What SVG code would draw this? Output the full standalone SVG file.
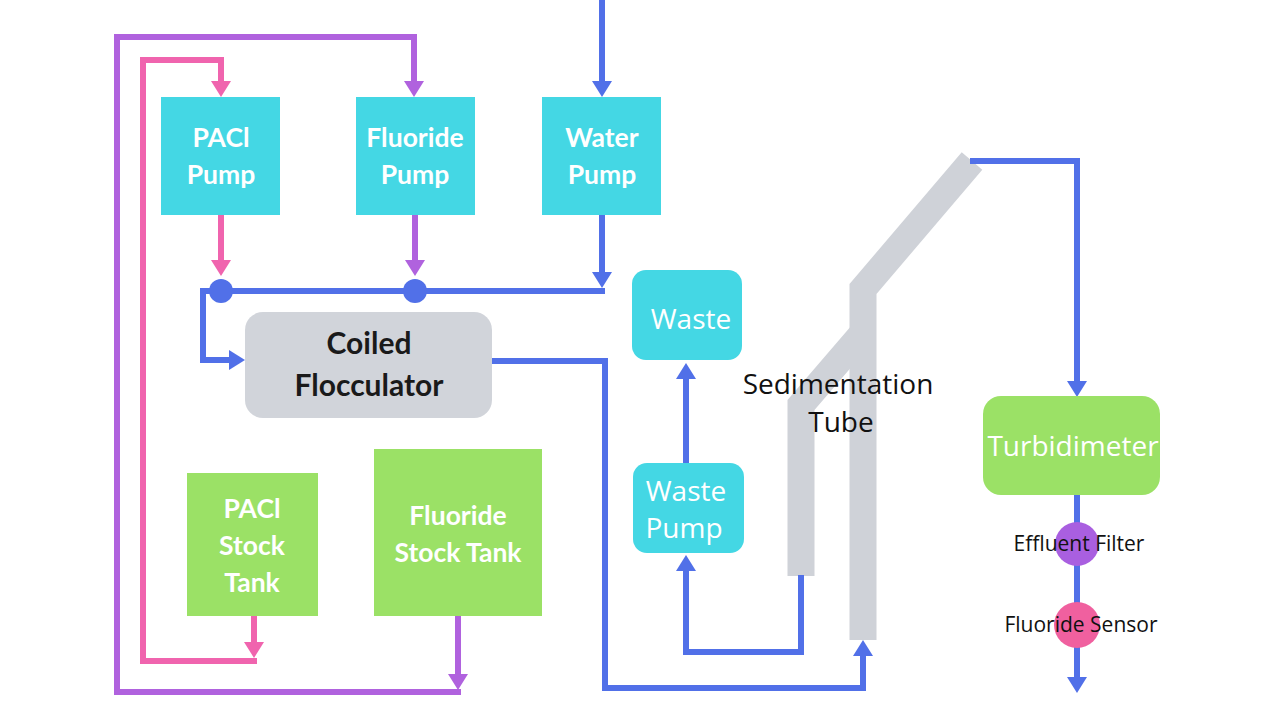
<svg xmlns="http://www.w3.org/2000/svg" width="1280" height="720" viewBox="0 0 1280 720">
<style>
.pump{fill:#44d7e4}
.tank{fill:#9be166}
.lbl{font-family:Lato,"Liberation Sans",sans-serif;font-weight:bold;font-size:26.5px;fill:#ffffff;text-anchor:middle}
.lbl2{font-family:"Open Sans","Liberation Sans",sans-serif;font-size:28px;fill:#ffffff;text-anchor:middle}
.blk{font-family:"Open Sans","Liberation Sans",sans-serif;fill:#111111;text-anchor:middle}
.ln{fill:none;stroke-width:6;stroke-linejoin:miter}
.b{stroke:#5170e8}
.p{stroke:#f064ae}
.v{stroke:#b062de}
.tube{fill:none;stroke:#cfd2d8;stroke-width:27;stroke-linejoin:miter}
</style>
<defs>
<marker id="ab" markerUnits="userSpaceOnUse" markerWidth="16" markerHeight="20" viewBox="0 0 16 20" refX="0" refY="10" orient="auto"><path d="M0,0 L16,10 L0,20 z" fill="#5170e8"/></marker>
<marker id="ap" markerUnits="userSpaceOnUse" markerWidth="16" markerHeight="20" viewBox="0 0 16 20" refX="0" refY="10" orient="auto"><path d="M0,0 L16,10 L0,20 z" fill="#f064ae"/></marker>
<marker id="av" markerUnits="userSpaceOnUse" markerWidth="16" markerHeight="20" viewBox="0 0 16 20" refX="0" refY="10" orient="auto"><path d="M0,0 L16,10 L0,20 z" fill="#b062de"/></marker>
</defs>
<rect width="1280" height="720" fill="#ffffff"/>

<g id="sedimentation-tube">
<path class="tube" d="M801,576 V405 L862,334"/>
<path class="tube" d="M863,640 V289 L972,161"/>
<text class="blk" x="838" y="394" font-size="28">Sedimentation</text>
<text class="blk" x="841" y="432" font-size="28">Tube</text>
</g>

<g id="connectors">
<path class="ln p" d="M221,215 V260" marker-end="url(#ap)"/>
<path class="ln p" d="M254,616 V642" marker-end="url(#ap)"/>
<path class="ln p" d="M257,661 H143 V60 H221 V81" marker-end="url(#ap)"/>
<path class="ln v" d="M415,215 V260" marker-end="url(#av)"/>
<path class="ln v" d="M458,616 V674" marker-end="url(#av)"/>
<path class="ln v" d="M461,692 H117 V37 H414 V81" marker-end="url(#av)"/>
<path class="ln b" d="M602,0 V81" marker-end="url(#ab)"/>
<path class="ln b" d="M602,215 V272" marker-end="url(#ab)"/>
<path class="ln b" d="M605,291 H203 V360 H229" marker-end="url(#ab)"/>
<path class="ln b" d="M492,361 H605 V688 H863 V656" marker-end="url(#ab)"/>
<path class="ln b" d="M686,463 V379" marker-end="url(#ab)"/>
<path class="ln b" d="M801,575 V652 H686 V571" marker-end="url(#ab)"/>
<path class="ln b" d="M970,161 H1077 V381" marker-end="url(#ab)"/>
<path class="ln b" d="M1077,495 V677" marker-end="url(#ab)"/>
<circle cx="221" cy="291" r="12" fill="#5170e8"/>
<circle cx="415" cy="291" r="12" fill="#5170e8"/>
</g>

<g id="pacl-pump">
<rect class="pump" x="161" y="97" width="119" height="118"/>
<text class="lbl" x="221" y="147">PACl</text>
<text class="lbl" x="221" y="184">Pump</text>
</g>
<g id="fluoride-pump">
<rect class="pump" x="356" y="97" width="119" height="118"/>
<text class="lbl" x="415" y="147">Fluoride</text>
<text class="lbl" x="415" y="184">Pump</text>
</g>
<g id="water-pump">
<rect class="pump" x="542" y="97" width="119" height="118"/>
<text class="lbl" x="602" y="147">Water</text>
<text class="lbl" x="602" y="184">Pump</text>
</g>
<g id="coiled-flocculator">
<rect x="245" y="312" width="247" height="106" rx="18" fill="#d1d4da"/>
<text x="369" y="354" font-family="Lato,'Liberation Sans',sans-serif" font-weight="bold" font-size="30" fill="#1a1a1a" text-anchor="middle">Coiled</text>
<text x="369" y="396" font-family="Lato,'Liberation Sans',sans-serif" font-weight="bold" font-size="30" fill="#1a1a1a" text-anchor="middle">Flocculator</text>
</g>
<g id="waste">
<rect class="pump" x="632" y="270" width="110" height="90" rx="14"/>
<text class="lbl2" x="691" y="329">Waste</text>
</g>
<g id="waste-pump">
<rect class="pump" x="633" y="463" width="111" height="90" rx="14"/>
<text class="lbl2" x="686" y="501">Waste</text>
<text class="lbl2" x="684" y="538">Pump</text>
</g>
<g id="pacl-stock-tank">
<rect class="tank" x="187" y="473" width="131" height="143"/>
<text class="lbl" x="252" y="518">PACl</text>
<text class="lbl" x="252" y="555">Stock</text>
<text class="lbl" x="252" y="592">Tank</text>
</g>
<g id="fluoride-stock-tank">
<rect class="tank" x="374" y="449" width="168" height="167"/>
<text class="lbl" x="458" y="525">Fluoride</text>
<text class="lbl" x="458" y="562">Stock Tank</text>
</g>
<g id="turbidimeter">
<rect class="tank" x="983" y="396" width="177" height="99" rx="18"/>
<text class="lbl2" x="1073" y="456" font-size="29">Turbidimeter</text>
</g>
<g id="effluent-filter">
<circle cx="1077" cy="544" r="22" fill="#a95fe0"/>
<text class="blk" x="1079" y="551" font-size="21">Effluent Filter</text>
</g>
<g id="fluoride-sensor">
<circle cx="1077" cy="625" r="23" fill="#f0609f"/>
<text class="blk" x="1081" y="632" font-size="21">Fluoride Sensor</text>
</g>
</svg>
